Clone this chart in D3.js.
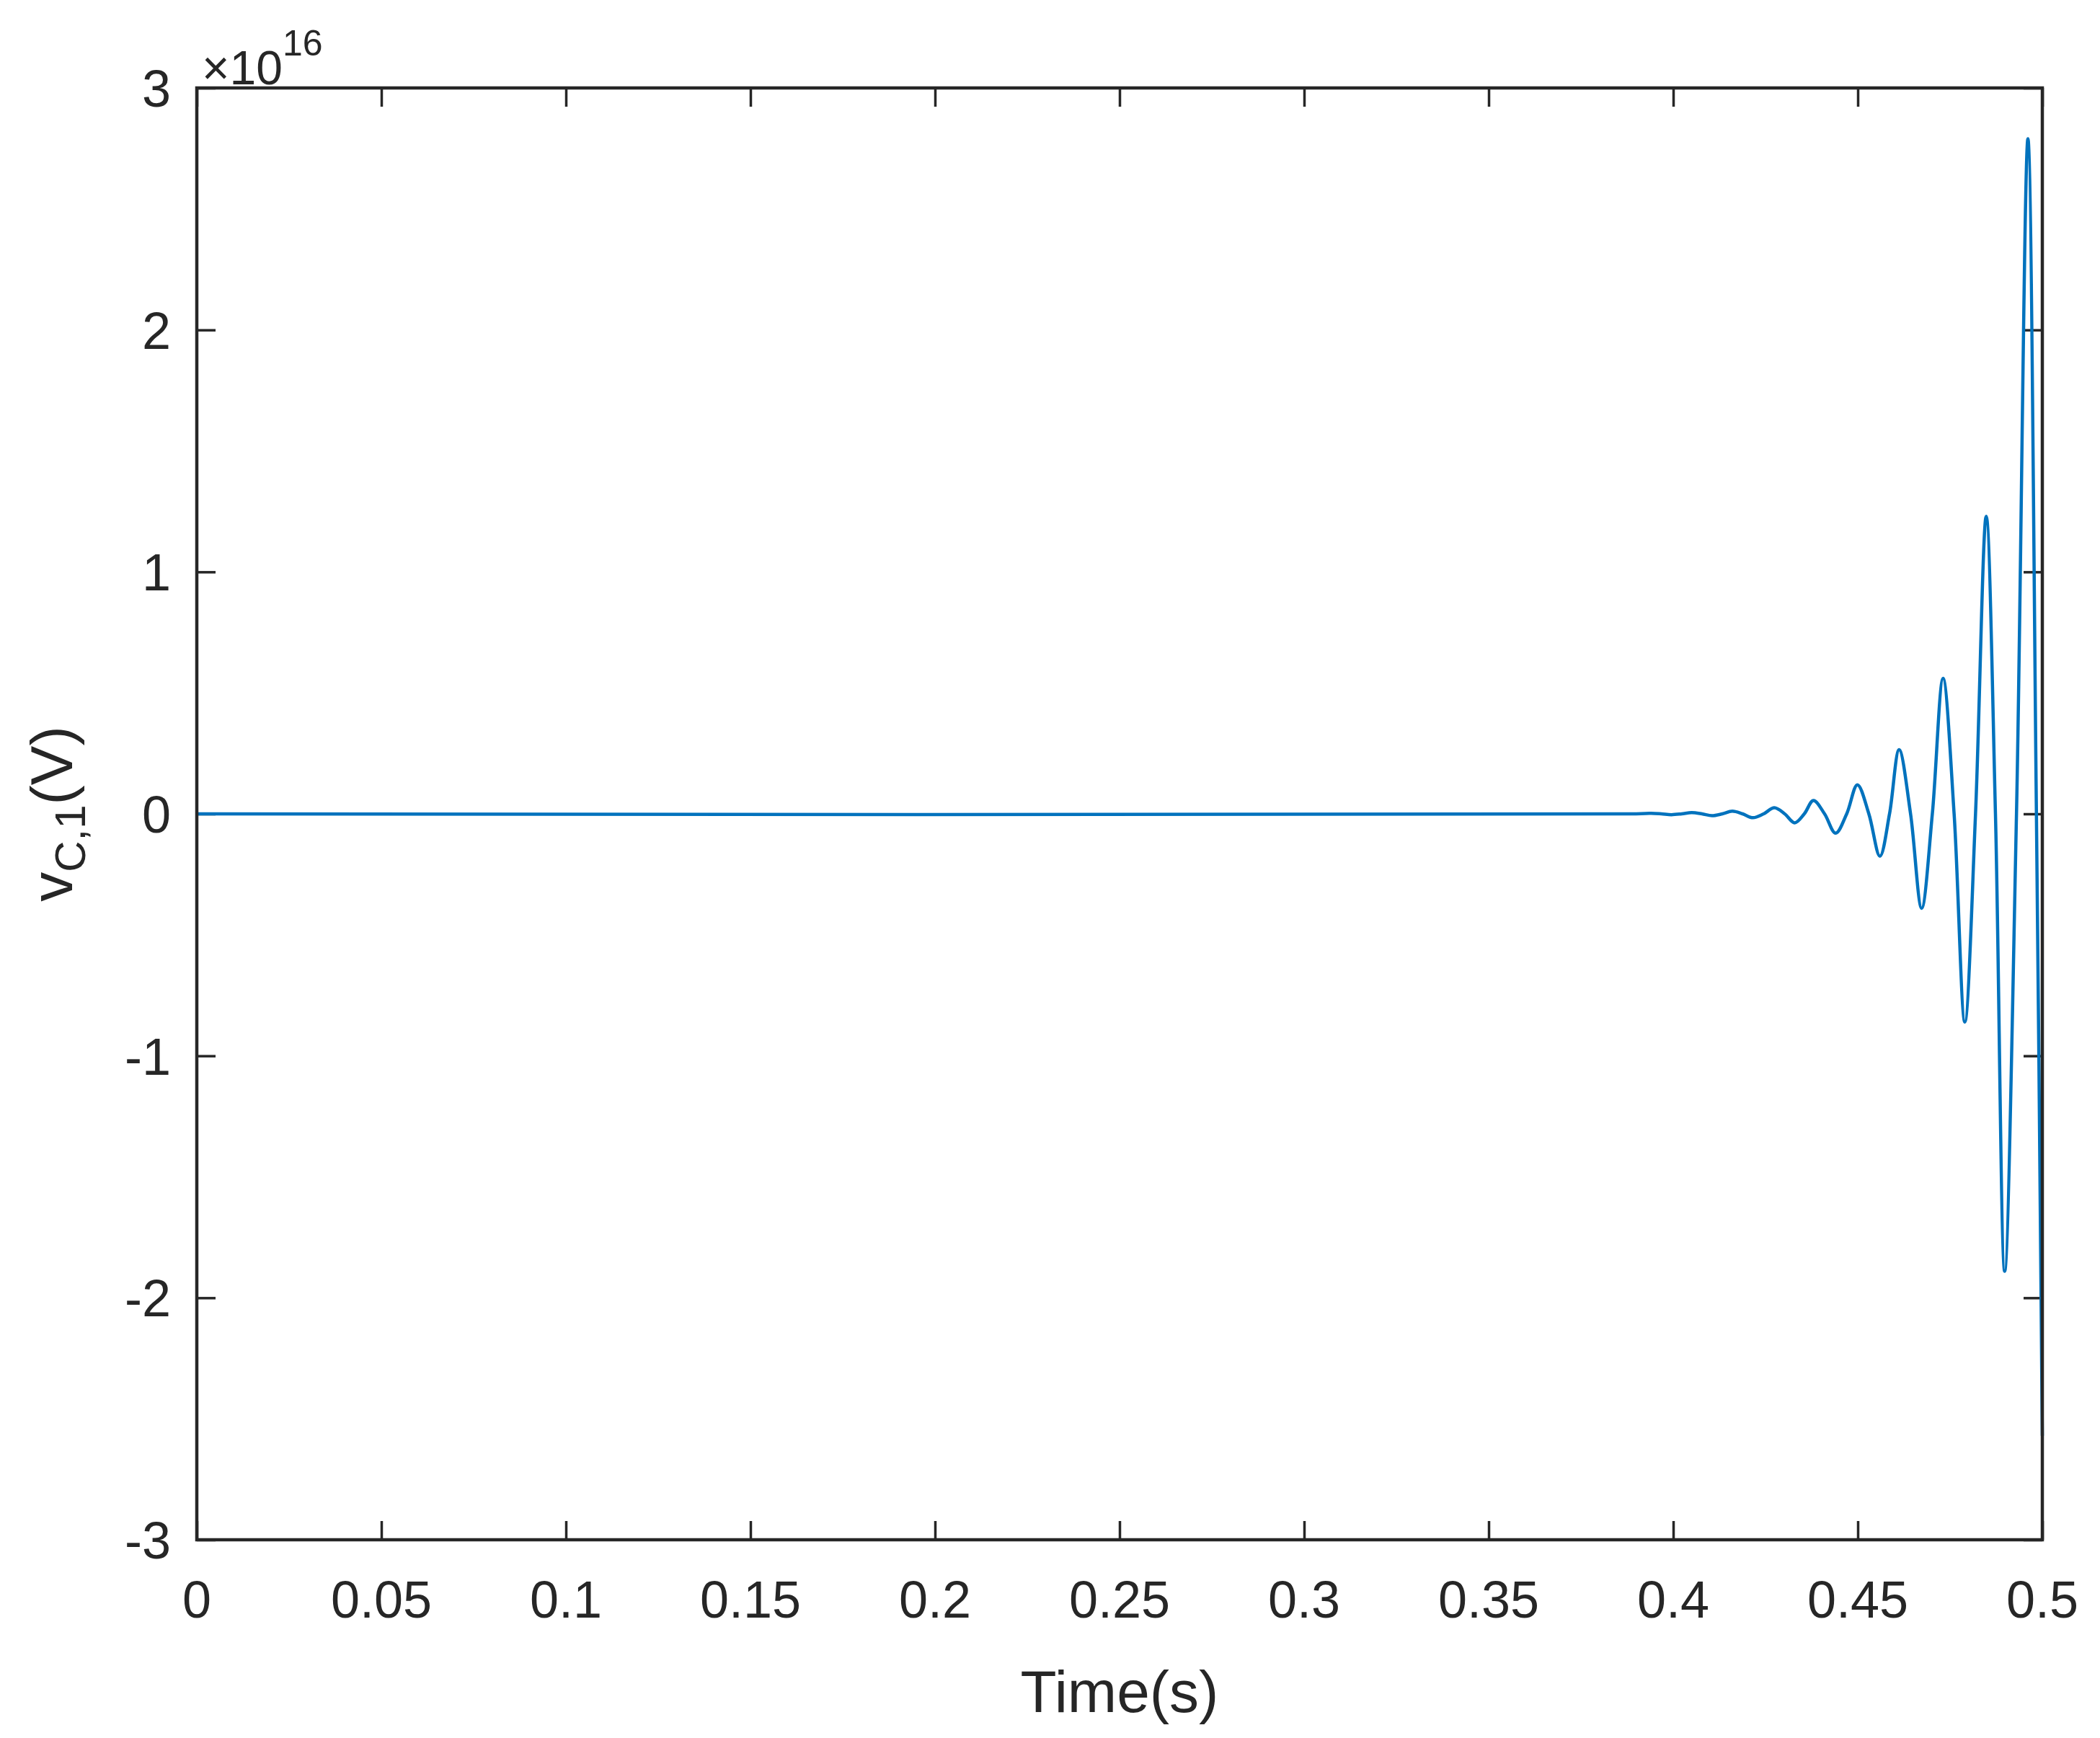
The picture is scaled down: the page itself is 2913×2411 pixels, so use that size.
<!DOCTYPE html>
<html><head><meta charset="utf-8">
<script src="https://cdn.jsdelivr.net/npm/d3@7"></script>
<style>body{margin:0;background:#fff}text{font-family:"Liberation Sans",Arial,sans-serif;fill:#262626}</style>
</head><body>
<svg id="c" width="2913" height="2411"></svg>
<script>
const xTicks=[0,0.05,0.1,0.15,0.2,0.25,0.3,0.35,0.4,0.45,0.5];
const xTickLabels=["0","0.05","0.1","0.15","0.2","0.25","0.3","0.35","0.4","0.45","0.5"];
const yTicks=[-3,-2,-1,0,1,2,3];
const yTickLabels=["-3","-2","-1","0","1","2","3"];
// time (s) and voltage (x1e16 V)
const timeS=[0,0.39,0.394,0.3968,0.3995,0.4023,0.405,0.4078,0.4105,0.4133,0.416,0.4188,0.4216,0.4245,0.4274,0.4302,0.4329,0.4355,0.438,0.441,0.444,0.447,0.4499,0.453,0.456,0.4586,0.4612,0.4643,0.4673,0.4702,0.4731,0.4761,0.479,0.4819,0.4848,0.4873,0.4898,0.493,0.4961,0.4984,0.5];
const vC1=[0,0,0.0023,0,-0.0034,0,0.005,0,-0.0075,0,0.011,0,-0.016,0,0.025,0,-0.037,0,0.055,0,-0.08,0,0.12,0,-0.175,0,0.265,0,-0.39,0,0.56,0,-0.86,0,1.23,0,-1.89,0,2.79,0,-2.57];

const L=273,R=2833,T=122,B=2136,col="#262626";
const svg=d3.select("#c");
const x=d3.scaleLinear().domain([0,0.5]).range([L,R]);
const y=d3.scaleLinear().domain([-3,3]).range([B,T]);
const tk=26;
function ax(g){g.selectAll(".domain").remove();g.selectAll("line").attr("stroke",col).attr("stroke-width",3.5);g.selectAll("text").remove();}
svg.append("g").attr("transform",`translate(0,${B})`).call(d3.axisTop(x).tickValues(xTicks).tickSize(tk)).call(ax);
svg.append("g").attr("transform",`translate(0,${T})`).call(d3.axisBottom(x).tickValues(xTicks).tickSize(tk)).call(ax);
svg.append("g").attr("transform",`translate(${L},0)`).call(d3.axisRight(y).tickValues(yTicks).tickSize(tk)).call(ax);
svg.append("g").attr("transform",`translate(${R},0)`).call(d3.axisLeft(y).tickValues(yTicks).tickSize(tk)).call(ax);

const pts=timeS.map((t,i)=>[t,vC1[i]]);
svg.append("path").datum(pts).attr("fill","none").attr("stroke","#0072BD").attr("stroke-width",4.5)
  .attr("d",d3.line().x(d=>x(d[0])).y(d=>y(d[1])).curve(d3.curveCatmullRom.alpha(0.5)));

svg.append("rect").attr("x",L).attr("y",T).attr("width",R-L).attr("height",B-T).attr("fill","none").attr("stroke",col).attr("stroke-width",4.5);

xTicks.forEach((v,i)=>svg.append("text").attr("x",x(v)).attr("y",B+108).attr("text-anchor","middle").attr("font-size",72).text(xTickLabels[i]));
yTicks.forEach((v,i)=>svg.append("text").attr("x",237).attr("y",y(v)+26).attr("text-anchor","end").attr("font-size",72).text(yTickLabels[i]));

svg.append("text").attr("x",(L+R)/2).attr("y",2375).attr("text-anchor","middle").attr("font-size",82).text("Time(s)");
const yl=svg.append("text").attr("transform",`translate(100,${(T+B)/2}) rotate(-90)`).attr("text-anchor","middle").attr("font-size",82);
yl.append("tspan").text("v");
yl.append("tspan").attr("font-size",60).attr("dy",18).text("C,1");
yl.append("tspan").attr("dy",-18).text("(V)");
const ex=svg.append("text").attr("x",280).attr("y",117).attr("font-size",66);
ex.append("tspan").text("×10");
ex.append("tspan").attr("font-size",50).attr("dy",-40).text("16");
</script></body></html>
